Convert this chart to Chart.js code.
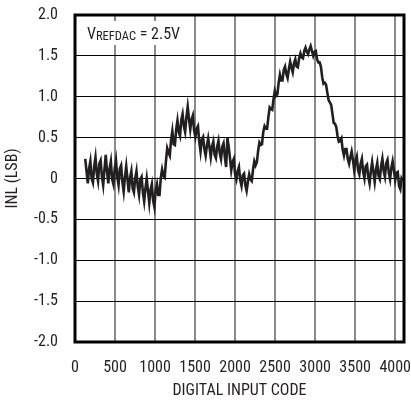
<!DOCTYPE html>
<html><head><meta charset="utf-8">
<script src="https://cdn.jsdelivr.net/npm/chart.js@4/dist/chart.umd.min.js"></script>
<style>html,body{margin:0;padding:0;background:#fff}#wrap{width:411px;height:404px}</style>
</head><body><div id="wrap"><canvas id="c" width="411" height="404"></canvas></div>
<script>
const codes = [
128,144,160,176,192,208,224,240,256,272,288,304,320,336,352,368,384,400,416,432,448,
464,480,496,512,528,544,560,576,592,608,624,640,656,672,688,704,
720,736,752,768,784,800,816,832,848,864,880,896,912,928,944,960,976,992,1008,
1024,1040,1056,1072,1088,1104,1120,1136,1152,1168,1184,1200,
1216,1232,1248,1264,1280,1296,1312,1328,1344,1360,1376,1392,1408,
1424,1440,1456,1472,1488,1504,1520,1536,1552,1568,
1584,1600,1616,1632,1648,1664,1680,1696,1712,1728,1744,1760,1776,1792,1808,1824,1840,1856,1872,1888,1904,
1920,1936,1952,1968,1984,2000,2016,2032,2048,2064,
2080,2096,2112,2128,2144,2160,2176,
2192,2208,2224,2240,2256,2272,2288,2304,2320,2336,2352,2368,2384,2400,2416,2432,2448,2464,2480,2496,
2512,2528,2544,2560,2576,2592,2608,2624,2640,2656,2672,2688,2704,2720,2736,2752,2768,2784,
2800,2816,2832,2848,2864,2880,2896,2912,
2928,2944,2960,2976,2992,3008,3024,3040,
3056,3072,3088,3104,3120,3136,3152,3168,3184,3200,3216,3232,3248,3264,3280,3296,
3312,3328,3344,3360,3376,3392,3408,3424,3440,3456,
3472,3488,3504,3520,3536,3552,3568,3584,3600,3616,3632,3648,
3664,3680,3696,3712,3728,3744,3760,3776,3792,3808,3824,3840,3856,3872,3888,3904,3920,3936,3952,
3968,3984,4000,4016,4032,4048,4064,4080,
4095];
const inl = [
0.24,0.09,-0.06,0.12,0.21,0.00,-0.05,0.15,0.26,0.06,-0.03,0.18,0.22,0.03,-0.08,0.11,0.29,0.09,-0.06,0.12,0.21,
-0.01,-0.07,0.12,0.22,0.02,-0.08,0.12,0.16,-0.04,-0.16,0.02,0.15,-0.01,-0.17,0.01,0.09,
-0.12,-0.17,0.00,0.09,-0.10,-0.20,-0.01,0.02,-0.17,-0.28,-0.12,0.00,-0.15,-0.30,-0.14,-0.07,-0.27,-0.35,-0.14,
-0.07,-0.20,-0.20,0.01,0.11,0.03,0.01,0.21,0.37,0.32,0.28,0.47,
0.58,0.42,0.41,0.60,0.71,0.57,0.52,0.72,0.79,0.64,0.57,0.75,0.88,
0.73,0.60,0.72,0.77,0.59,0.51,0.61,0.64,0.45,0.33,
0.48,0.51,0.36,0.28,0.40,0.49,0.38,0.26,0.39,0.45,0.29,0.25,0.39,0.46,0.31,0.24,0.39,0.43,0.26,0.14,0.50,
0.39,0.25,0.10,0.20,0.24,0.05,-0.01,0.09,0.14,-0.02,
-0.09,0.04,0.06,-0.08,-0.15,-0.04,0.05,
-0.01,-0.03,0.11,0.21,0.16,0.20,0.34,0.44,0.41,0.42,0.57,0.64,0.61,0.61,0.75,0.87,0.85,0.84,0.97,1.07,
1.01,1.03,1.17,1.27,1.20,1.20,1.33,1.37,1.28,1.23,1.34,1.43,1.36,1.30,1.41,1.46,1.37,1.36,
1.47,1.53,1.48,1.47,1.56,1.60,1.55,1.52,
1.58,1.62,1.56,1.50,1.55,1.56,1.46,1.42,
1.42,1.37,1.24,1.16,1.17,1.15,1.05,0.96,0.93,0.90,0.79,0.68,0.67,0.63,0.52,0.45,
0.46,0.49,0.35,0.28,0.36,0.36,0.24,0.18,0.26,0.33,
0.23,0.10,0.22,0.27,0.10,0.05,0.18,0.24,0.08,0.00,0.15,0.17,
0.02,-0.06,0.09,0.20,0.08,-0.04,0.11,0.19,0.03,-0.01,0.15,0.24,0.09,0.02,0.19,0.23,0.07,-0.01,0.13,
0.21,0.10,-0.02,0.07,0.08,-0.09,-0.13,0.00,
-0.03];
const xTicks = [0,500,1000,1500,2000,2500,3000,3500,4000];
const xTickLabels = ['0','500','1000','1500','2000','2500','3000','3500','4000'];
const yTicks = [-2,-1.5,-1,-0.5,0,0.5,1,1.5,2];
const yTickLabels = ['-2.0','-1.5','-1.0','-0.5','0','0.5','1.0','1.5','2.0'];
const xTitle = 'DIGITAL INPUT CODE';
const yTitle = 'INL (LSB)';
const noteMain = 'V', noteSub = 'REFDAC', noteRest = ' = 2.5V';

const FONT = '"Liberation Sans Narrow","Roboto Condensed","Liberation Sans",sans-serif';
const INK = '#231f20';

const framePlugin = {
  id: 'frame',
  afterDatasetsDraw(chart) {
    const {ctx, chartArea: a} = chart;
    ctx.save();
    ctx.fillStyle = '#fff';
    ctx.fillRect(a.left + 8, a.top + 6, 106, 24);
    ctx.fillStyle = INK;
    ctx.textBaseline = 'alphabetic';
    let x = a.left + 12, y = a.top + 24;
    ctx.font = '16px ' + FONT;
    ctx.fillText(noteMain, x, y);
    x += ctx.measureText(noteMain).width;
    ctx.font = '12.5px ' + FONT;
    ctx.fillText(noteSub, x, y + 1);
    x += ctx.measureText(noteSub).width;
    ctx.font = '16px ' + FONT;
    ctx.fillText(noteRest, x, y);
    ctx.strokeStyle = '#000';
    ctx.lineWidth = 3;
    ctx.strokeRect(a.left, a.top, a.right - a.left, a.bottom - a.top);
    ctx.restore();
  }
};

const zeroPad = s => { s.paddingLeft = 0; s.paddingRight = 0; s.paddingTop = 0; s.paddingBottom = 0; };

new Chart(document.getElementById('c'), {
  type: 'line',
  data: {
    datasets: [{
      data: codes.map((c, i) => ({x: c, y: inl[i]})),
      borderColor: INK,
      borderWidth: 2.6,
      pointRadius: 0,
      tension: 0,
      fill: false
    }]
  },
  options: {
    responsive: false,
    animation: false,
    devicePixelRatio: 1,
    layout: {padding: {top: 15, right: 7, left: 0, bottom: 0}},
    plugins: {legend: {display: false}, tooltip: {enabled: false}},
    scales: {
      x: {
        type: 'linear', min: 0, max: 4110,
        afterBuildTicks: s => { s.ticks = xTicks.map(v => ({value: v})); },
        afterFit: s => { s.height = 62; zeroPad(s); },
        ticks: {
          padding: 16, maxRotation: 0, autoSkip: false, color: INK,
          font: {family: FONT, size: 16},
          callback: (v) => { const i = xTicks.indexOf(v); return i >= 0 ? xTickLabels[i] : ''; }
        },
        grid: {color: '#8a8a8a', lineWidth: 2, drawTicks: false},
        border: {display: false},
        title: {display: true, text: xTitle, color: INK, font: {family: FONT, size: 16}, padding: {top: 0, bottom: 3}}
      },
      y: {
        type: 'linear', min: -2, max: 2,
        afterBuildTicks: s => { s.ticks = yTicks.map(v => ({value: v})); },
        afterFit: s => { s.width = 75; zeroPad(s); },
        ticks: {
          padding: 17, color: INK,
          font: {family: FONT, size: 16},
          callback: (v) => { const i = yTicks.indexOf(v); return i >= 0 ? yTickLabels[i] : ''; }
        },
        grid: {color: '#000', lineWidth: 1, drawTicks: false},
        border: {display: false},
        title: {display: true, text: yTitle, color: INK, font: {family: FONT, size: 16}, padding: {top: 3, bottom: 0}}
      }
    }
  },
  plugins: [framePlugin]
});
</script>
</body></html>
